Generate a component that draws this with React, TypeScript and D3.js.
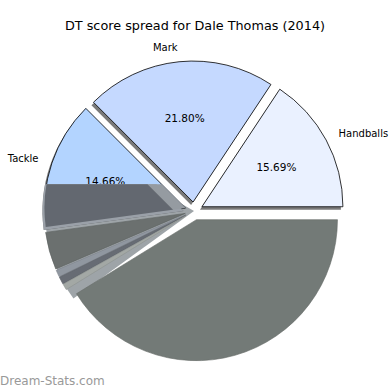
import { useEffect, useRef } from "react";
import * as d3 from "d3";

const WIDTH = 390;
const HEIGHT = 390;
const CENTER = { x: 194, y: 211 };
const RADIUS = 141;
const EXPLODE = 9;
const FONT = "DejaVu Sans, sans-serif";

const TITLE = "DT score spread for Dale Thomas (2014)";
const CATEGORIES = ["Handballs", "Mark", "Tackle", "", "", "", "", ""];
const SHARES = [15.69, 21.8, 14.66, 4.3, 0.8, 0.85, 0.7, 41.2];
const PCT_LABELS = ["15.69%", "21.80%", "14.66%", "", "", "", "", ""];
const COLORS = ["#eaf1ff", "#c5d9ff", "#b3d4ff", "#6b706f", "#9097a0", "#676c74", "#a3a8a5", "#737a77"];
const HAS_SHADOW = [true, true, true, false, false, false, false, false];

const deg = (d: number) => Math.PI / 2 - (d * Math.PI) / 180;

export default function App() {
  const svgRef = useRef<SVGSVGElement | null>(null);

  useEffect(() => {
    if (!svgRef.current) return;
    const svg = d3.select(svgRef.current);
    svg.selectAll("*").remove();

    // matplotlib style: start at 3 o'clock, go counter-clockwise
    const pie = d3
      .pie<number>()
      .sort(null)
      .value((d) => d)
      .startAngle(Math.PI / 2)
      .endAngle(Math.PI / 2 - 2 * Math.PI);
    const arcs = pie(SHARES);
    const arc = d3.arc<any>().innerRadius(0).outerRadius(RADIUS);

    const offset = (a: any) => {
      const mid = (a.startAngle + a.endAngle) / 2;
      return [EXPLODE * Math.sin(mid), -EXPLODE * Math.cos(mid)];
    };
    const polar = (a: any, dist: number) => {
      const mid = (a.startAngle + a.endAngle) / 2;
      const [ox, oy] = offset(a);
      return [CENTER.x + ox + dist * Math.sin(mid), CENTER.y + oy - dist * Math.cos(mid)];
    };

    const foldY = CENTER.y - 0.19 * RADIUS;
    const foldX = CENTER.x - 0.33 * RADIUS;
    const defs = svg.append("defs");
    defs
      .append("clipPath")
      .attr("id", "fold-below")
      .append("rect")
      .attr("x", 0)
      .attr("y", foldY)
      .attr("width", WIDTH)
      .attr("height", HEIGHT - foldY);
    defs
      .append("clipPath")
      .attr("id", "fold-dark")
      .append("polygon")
      .attr(
        "points",
        [
          [0, foldY],
          [foldX, foldY],
          [foldX + 200, foldY + 200],
          [0, foldY + 200],
        ]
          .map((p) => p.join(","))
          .join(" "),
      );

    svg
      .append("text")
      .attr("x", WIDTH / 2)
      .attr("y", 30)
      .attr("text-anchor", "middle")
      .style("font-family", FONT)
      .style("font-size", "12.8px")
      .attr("fill", "#000")
      .text(TITLE);

    const g = svg.append("g");

    // light backdrop showing through the gaps of the lower-left slices
    g.append("g")
      .attr("clip-path", "url(#fold-below)")
      .append("path")
      .attr("transform", `translate(${CENTER.x},${CENTER.y})`)
      .attr(
        "d",
        d3
          .arc<any>()
          .innerRadius(0)
          .outerRadius(RADIUS + 8)({ startAngle: deg(150), endAngle: deg(216) }),
      )
      .attr("fill", "#9ea4a8");

    // shadows
    arcs.forEach((a, i) => {
      if (!HAS_SHADOW[i]) return;
      const [ox, oy] = offset(a);
      g.append("path")
        .attr("d", arc(a))
        .attr("transform", `translate(${CENTER.x + ox - 2},${CENTER.y + oy + 3})`)
        .attr("fill", "#222")
        .attr("fill-opacity", 0.6);
    });

    // wedges
    arcs.forEach((a, i) => {
      const [ox, oy] = offset(a);
      const upper = HAS_SHADOW[i];
      g.append("path")
        .attr("d", arc(a))
        .attr("transform", `translate(${CENTER.x + ox},${CENTER.y + oy})`)
        .attr("fill", COLORS[i])
        .attr("stroke", upper ? "#000" : d3.color(COLORS[i])!.darker(0.4).toString())
        .attr("stroke-width", upper ? 0.8 : 0.6)
        .attr("stroke-linejoin", "round");
    });

    // category labels
    arcs.forEach((a, i) => {
      if (!CATEGORIES[i]) return;
      const [x, y] = polar(a, RADIUS * 1.1);
      g.append("text")
        .attr("x", x)
        .attr("y", y)
        .attr("text-anchor", x > CENTER.x + offset(a)[0] ? "start" : "end")
        .attr("dominant-baseline", "central")
        .style("font-family", FONT)
        .style("font-size", "10px")
        .text(CATEGORIES[i]);
    });

    // percentage labels
    arcs.forEach((a, i) => {
      if (!PCT_LABELS[i]) return;
      const [x, y] = polar(a, RADIUS * 0.6);
      g.append("text")
        .attr("x", x)
        .attr("y", y)
        .attr("text-anchor", "middle")
        .attr("dominant-baseline", "central")
        .style("font-family", FONT)
        .style("font-size", "10.5px")
        .text(PCT_LABELS[i]);
    });

    // folded lower part of the Tackle wedge
    const tackle = arcs[2];
    const [tx, ty] = offset(tackle);
    const fold = g.append("g").attr("clip-path", "url(#fold-below)");
    fold
      .append("path")
      .attr("d", arc(tackle))
      .attr("transform", `translate(${CENTER.x + tx - 2},${CENTER.y + ty + 3})`)
      .attr("fill", "#9aa0a8");
    fold
      .append("path")
      .attr("d", arc(tackle))
      .attr("transform", `translate(${CENTER.x + tx},${CENTER.y + ty})`)
      .attr("fill", "#959ba1");
    g.append("g")
      .attr("clip-path", "url(#fold-dark)")
      .append("path")
      .attr("d", arc(tackle))
      .attr("transform", `translate(${CENTER.x + tx},${CENTER.y + ty})`)
      .attr("fill", "#636870");

    svg
      .append("text")
      .attr("x", 0)
      .attr("y", 385)
      .style("font-family", FONT)
      .style("font-size", "12px")
      .attr("fill", "#999")
      .text("Dream-Stats.com");
  }, []);

  return (
    <svg
      ref={svgRef}
      width={WIDTH}
      height={HEIGHT}
      style={{ position: "absolute", left: 0, top: 0, background: "#fff" }}
    />
  );
}
